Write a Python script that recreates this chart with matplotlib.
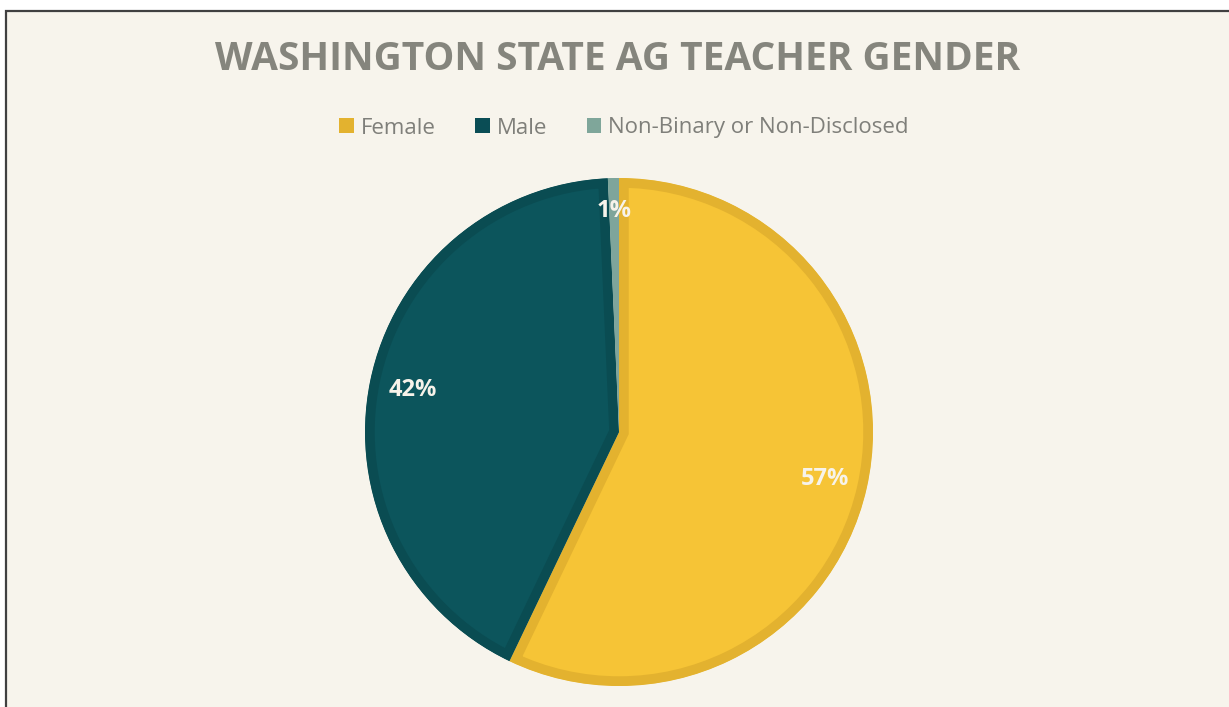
import numpy as np
import matplotlib.pyplot as plt
from matplotlib.patches import Rectangle, Patch

# data
labels = ["Female", "Male", "Non-Binary or Non-Disclosed"]
shares = [57.1, 42.2, 0.7]
pct_text = ["57%", "42%", "1%"]
fills = ["#F6C436", "#0C555C", "#7EA59B"]
edges = ["#E3B22F", "#0A4C52", "#7EA59B"]
legend_colors = ["#E3B22F", "#0A4D55", "#7FA69A"]

W, H = 1229, 707
fig = plt.figure(figsize=(W / 100, H / 100), dpi=100)
fig.patch.set_facecolor("white")

# cream panel with dark frame (cropped on right and bottom)
fig.patches.append(Rectangle((6 / W, -0.05), 1.1, 1 - 11 / H + 0.05,
                             transform=fig.transFigure, facecolor="#F7F4EC",
                             edgecolor="#404040", linewidth=1.6, zorder=-5))

fig.text(618 / W, 1 - 60 / H, "WASHINGTON STATE AG TEACHER GENDER",
         ha="center", va="center", fontsize=28, fontweight="bold",
         color="#85857D", family="Open Sans")

# pie axes: centre (619, 432), radius 254 px
cx, cy, r = 619, 432, 254
ax = fig.add_axes([(cx - r) / W, 1 - (cy + r) / H, 2 * r / W, 2 * r / H])

wedges, _ = ax.pie(shares, colors=fills, startangle=90, counterclock=False,
                   radius=1, wedgeprops=dict(linewidth=14))
ax.set_xlim(-1, 1)
ax.set_ylim(-1, 1)
ax.axis("off")
for w, ec in zip(wedges, edges):
    w.set_edgecolor(ec)
    # keep only the inner half of the stroke
    w.set_clip_path(w.get_path(), ax.transData)
    w.set_clip_on(True)

# percentage labels
for w, s, t in zip(wedges, shares, pct_text):
    mid = np.deg2rad((w.theta1 + w.theta2) / 2)
    d = 0.87 if s < 5 else 0.83
    ax.text(d * np.cos(mid), d * np.sin(mid), t, ha="center", va="center",
            fontsize=17, fontweight="bold", color="#F7F3EA", family="Open Sans")

handles = [Patch(facecolor=c, edgecolor="none") for c in legend_colors]
fig.legend(handles, labels, loc="center", bbox_to_anchor=(624 / W, 1 - 128 / H),
           ncol=3, frameon=False, handlelength=0.65, handleheight=0.65,
           handletextpad=0.3, columnspacing=1.8, labelcolor="#7F7F7A",
           prop=dict(family="Open Sans", size=16))

fig.savefig("out.png", dpi=100)
